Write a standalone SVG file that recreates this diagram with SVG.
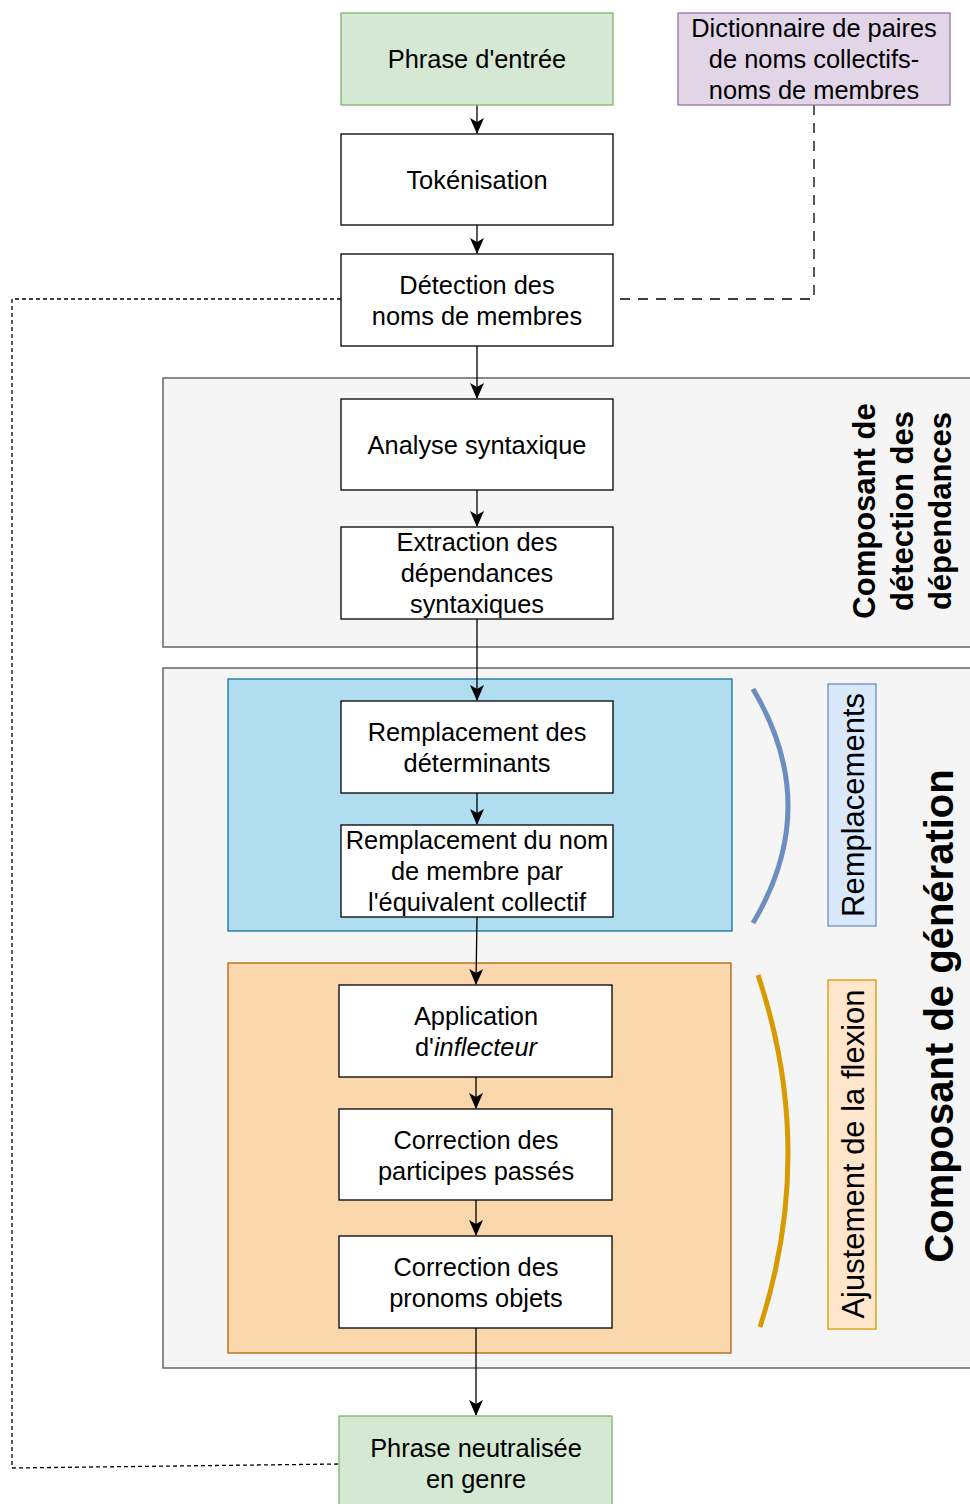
<svg xmlns="http://www.w3.org/2000/svg" width="970" height="1504" viewBox="0 0 970 1504">
<style>
.t{font-family:"Liberation Sans",Arial,sans-serif;font-size:25.4px;fill:#000;text-anchor:middle}
.s{font-family:"Liberation Sans",Arial,sans-serif;font-size:31px;fill:#000;text-anchor:middle}
.b{font-family:"Liberation Sans",Arial,sans-serif;font-weight:bold;fill:#000;text-anchor:middle}
.n{fill:#fff;stroke:#000;stroke-width:1.3}
.g{fill:#d5e8d4;stroke:#82b366;stroke-width:1.3}
.c{fill:#f5f5f5;stroke:#666;stroke-width:1.5}
.e{fill:none;stroke:#000;stroke-width:1.3}
</style>
<defs>
<marker id="a" viewBox="0 0 16 14" refX="15" refY="7" markerWidth="16" markerHeight="14" markerUnits="userSpaceOnUse" orient="auto">
<path d="M0,0 L16,7 L0,14 L4,7 Z" fill="#000"/>
</marker>
</defs>
<g id="container-dependances">
<rect class="c" x="163" y="378" width="820" height="269"/>
<g transform="rotate(-90)">
<text class="b" font-size="31" x="-511" y="875">Composant de</text>
<text class="b" font-size="31" x="-511" y="913">détection des</text>
<text class="b" font-size="31" x="-511" y="951">dépendances</text>
</g>
</g>
<g id="container-generation">
<rect class="c" x="163" y="668" width="820" height="700"/>
<text class="b" font-size="40" transform="rotate(-90)" x="-1016" y="953">Composant de génération</text>
</g>
<g id="groupe-remplacements">
<rect x="228" y="679" width="504" height="252" fill="#b1ddf0" stroke="#10739e" stroke-width="1.3"/>
</g>
<g id="groupe-flexion">
<rect x="228" y="963" width="503" height="390" fill="#fad7ac" stroke="#b46504" stroke-width="1.3"/>
</g>
<g id="arc-remplacements">
<path d="M753,689 Q823,806 753,923" fill="none" stroke="#6c8ebf" stroke-width="5"/>
</g>
<g id="arc-flexion">
<path d="M758,975 Q817,1151 760,1327" fill="none" stroke="#d79b00" stroke-width="5"/>
</g>
<g id="label-remplacements">
<rect x="828" y="684" width="48" height="242" fill="#dae8fc" stroke="#6c8ebf" stroke-width="1.3"/>
<text class="s" transform="rotate(-90)" x="-805" y="864">Remplacements</text>
</g>
<g id="label-flexion">
<rect x="828" y="980" width="48" height="349" fill="#ffe6cc" stroke="#d79b00" stroke-width="1.3"/>
<text class="s" transform="rotate(-90)" x="-1154" y="864">Ajustement de la flexion</text>
</g>
<g id="connectors">
<line class="e" x1="477" y1="105" x2="477" y2="133" marker-end="url(#a)"/>
<line class="e" x1="477" y1="225" x2="477" y2="253" marker-end="url(#a)"/>
<line class="e" x1="477" y1="346" x2="477" y2="398" marker-end="url(#a)"/>
<line class="e" x1="477" y1="490" x2="477" y2="526" marker-end="url(#a)"/>
<line class="e" x1="477" y1="619" x2="477" y2="700" marker-end="url(#a)"/>
<line class="e" x1="477" y1="793" x2="477" y2="824" marker-end="url(#a)"/>
<line class="e" x1="477" y1="917" x2="476" y2="984" marker-end="url(#a)"/>
<line class="e" x1="476" y1="1077" x2="476" y2="1108" marker-end="url(#a)"/>
<line class="e" x1="476" y1="1200" x2="476" y2="1235" marker-end="url(#a)"/>
<line class="e" x1="476" y1="1328" x2="476" y2="1415" marker-end="url(#a)"/>
<polyline fill="none" stroke="#000" stroke-width="1.3" stroke-dasharray="10 8" points="814,105 814,299 613,299"/>
<polyline fill="none" stroke="#000" stroke-width="1.3" stroke-dasharray="4 3" points="341,299 12,299 12,1468 339,1464"/>
</g>
<g id="phrase-entree">
<rect class="g" x="341" y="13" width="272" height="92"/>
<text class="t" x="477" y="68">Phrase d'entrée</text>
</g>
<g id="dictionnaire">
<rect x="678" y="13" width="272" height="92" fill="#e1d5e7" stroke="#9673a6" stroke-width="1.3"/>
<text class="t" x="814" y="37">Dictionnaire de paires</text>
<text class="t" x="814" y="68">de noms collectifs-</text>
<text class="t" x="814" y="99">noms de membres</text>
</g>
<g id="tokenisation">
<rect class="n" x="341" y="134" width="272" height="91"/>
<text class="t" x="477" y="189">Tokénisation</text>
</g>
<g id="detection">
<rect class="n" x="341" y="254" width="272" height="92"/>
<text class="t" x="477" y="294">Détection des</text>
<text class="t" x="477" y="325">noms de membres</text>
</g>
<g id="analyse">
<rect class="n" x="341" y="399" width="272" height="91"/>
<text class="t" x="477" y="454">Analyse syntaxique</text>
</g>
<g id="extraction">
<rect class="n" x="341" y="527" width="272" height="92"/>
<text class="t" x="477" y="551">Extraction des</text>
<text class="t" x="477" y="582">dépendances</text>
<text class="t" x="477" y="613">syntaxiques</text>
</g>
<g id="remplacement-determinants">
<rect class="n" x="341" y="701" width="272" height="92"/>
<text class="t" x="477" y="741">Remplacement des</text>
<text class="t" x="477" y="772">déterminants</text>
</g>
<g id="remplacement-nom">
<rect class="n" x="341" y="825" width="272" height="92"/>
<text class="t" x="477" y="849">Remplacement du nom</text>
<text class="t" x="477" y="880">de membre par</text>
<text class="t" x="477" y="911">l'équivalent collectif</text>
</g>
<g id="application">
<rect class="n" x="339" y="985" width="273" height="92"/>
<text class="t" x="476" y="1025">Application</text>
<text class="t" x="476" y="1056">d'<tspan font-style="italic">inflecteur</tspan></text>
</g>
<g id="correction-participes">
<rect class="n" x="339" y="1109" width="273" height="91"/>
<text class="t" x="476" y="1149">Correction des</text>
<text class="t" x="476" y="1180">participes passés</text>
</g>
<g id="correction-pronoms">
<rect class="n" x="339" y="1236" width="273" height="92"/>
<text class="t" x="476" y="1276">Correction des</text>
<text class="t" x="476" y="1307">pronoms objets</text>
</g>
<g id="phrase-neutralisee">
<rect class="g" x="339" y="1416" width="273" height="100"/>
<text class="t" x="476" y="1457">Phrase neutralisée</text>
<text class="t" x="476" y="1488">en genre</text>
</g>
</svg>
